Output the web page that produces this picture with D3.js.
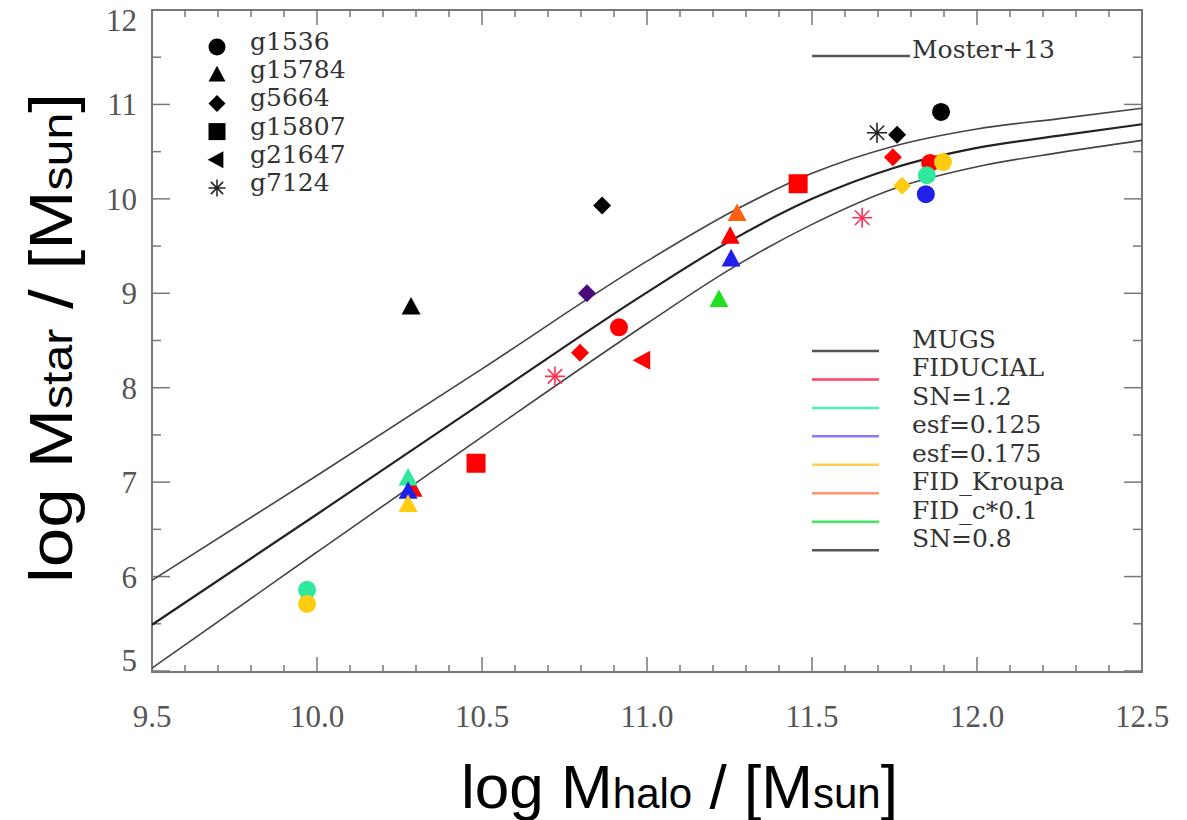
<!DOCTYPE html>
<html lang="en">
<head>
  <meta charset="UTF-8">
  <title>Stellar mass - halo mass</title>
  <style>
    body { margin: 0; background: #fff; }
    svg { display: block; background: #fff; }
    .tick-label { font-family: "Liberation Serif", serif; font-size: 31px; fill: #555; }
    .legend-text { font-family: "DejaVu Serif", serif; font-size: 25px; fill: #333; }
    .title { font-family: "Liberation Sans", Arial, sans-serif; fill: #000; }
  </style>
</head>
<body>
  <svg width="1187" height="820"></svg>

  <script src="https://d3js.org/d3.v7.min.js"></script>
  <script>
    // --- data ---------------------------------------------------------------
    const galaxies = ["g1536", "g15784", "g5664", "g15807", "g21647", "g7124"];
    const shapes = ["circle", "triangle", "diamond", "square", "left", "asterisk"];

    const models = ["MUGS", "FIDUCIAL", "SN=1.2", "esf=0.125", "esf=0.175", "FID_Kroupa", "FID_c*0.1", "SN=0.8"];
    const modelColors = ["#000000", "#ff0000", "#30e89c", "#2020e8", "#ffcc10", "#ff6010", "#20e020", "#4b0a7a"];
    const legendLineColors = ["#555", "#ff4060", "#50f0b0", "#8080ff", "#ffd050", "#ff9070", "#40e860", "#555"];

    // [galaxy, log Mhalo, log Mstar]
    const mugsPts = [
      ["g1536", 11.891, 10.92], ["g15784", 10.285, 8.85], ["g5664", 10.864, 9.93],
      ["g5664", 11.758, 10.68], ["g7124", 11.697, 10.70]
    ];
    const fiducialPts = [
      ["g5664", 11.745, 10.44], ["g1536", 11.858, 10.38], ["g15807", 11.458, 10.16],
      ["g15784", 11.252, 9.60], ["g1536", 10.915, 8.64], ["g5664", 10.797, 8.37],
      ["g21647", 10.988, 8.29], ["g7124", 10.721, 8.12], ["g15807", 10.482, 7.20],
      ["g15784", 10.291, 6.92], ["g7124", 11.652, 9.80]
    ];
    const sn12Pts = [["g15784", 10.276, 7.04], ["g1536", 9.970, 5.86], ["g1536", 11.848, 10.25]];
    const esf125Pts = [["g15784", 10.276, 6.90], ["g15784", 11.255, 9.36], ["g1536", 11.845, 10.05]];
    const esf175Pts = [["g15784", 10.276, 6.76], ["g1536", 9.970, 5.71], ["g5664", 11.773, 10.14], ["g1536", 11.897, 10.39]];
    const kroupaPts = [["g15784", 11.273, 9.84]];
    const cstarPts = [["g15784", 11.218, 8.93]];
    const sn08Pts = [["g5664", 10.818, 9.00]];
    const modelPts = [mugsPts, fiducialPts, sn12Pts, esf125Pts, esf175Pts, kroupaPts, cstarPts, sn08Pts];

    // Moster+13 relation and its scatter
    const mosterX = [9.5, 10.0, 10.5, 11.0, 11.25, 11.5, 11.75, 12.0, 12.25, 12.5];
    const mosterMid = [5.49, 6.66, 7.84, 9.01, 9.55, 10.00, 10.33, 10.54, 10.67, 10.79];
    const mosterUp = [5.96, 7.07, 8.20, 9.34, 9.85, 10.27, 10.56, 10.74, 10.85, 10.96];
    const mosterLo = [5.03, 6.26, 7.48, 8.68, 9.25, 9.73, 10.11, 10.34, 10.49, 10.62];

    const xMajor = [9.5, 10.0, 10.5, 11.0, 11.5, 12.0, 12.5];
    const yMajor = [5, 6, 7, 8, 9, 10, 11, 12];

    // --- layout -------------------------------------------------------------
    const svg = d3.select("svg");
    const x = d3.scaleLinear().domain([9.5, 12.5]).range([152, 1142]);
    const y = d3.scaleLinear().domain([5, 12]).range([671, 10]);
    const [x0, x1] = x.range();
    const yTop = 10, yBot = 672;

    function shapePath(shape, s) {
      switch (shape) {
        case "circle": return `M${s},0A${s},${s},0,1,1,${-s},0A${s},${s},0,1,1,${s},0Z`;
        case "triangle": return `M0,${-s * 1.1}L${s},${s * 0.75}L${-s},${s * 0.75}Z`;
        case "diamond": return `M0,${-s}L${s},0L0,${s}L${-s},0Z`;
        case "square": return `M${-s},${-s}H${s}V${s}H${-s}Z`;
        case "left": return `M${-s * 1.1},0L${s * 0.75},${-s}L${s * 0.75},${s}Z`;
        case "asterisk": {
          const d = s * 0.72;
          return `M0,${-s}V${s}M${-s},0H${s}M${-d},${-d}L${d},${d}M${-d},${d}L${d},${-d}`;
        }
      }
    }
    const shapeOf = g => shapes[galaxies.indexOf(g)];
    const sizeOf = sh => ({ circle: 9, triangle: 9.5, diamond: 9, square: 9.5, left: 9.5, asterisk: 10 })[sh];

    // --- frame and ticks ----------------------------------------------------
    const axisG = svg.append("g").attr("stroke", "#777").attr("fill", "none");
    axisG.append("rect").attr("x", x0).attr("y", yTop).attr("width", x1 - x0).attr("height", yBot - yTop)
      .attr("stroke-width", 2);

    const xMinor = d3.range(95, 126).map(v => v / 10).filter(v => !xMajor.some(m => Math.abs(m - v) < 1e-6));
    const yMinor = d3.range(5.5, 12, 1);

    function xTicks(vals, len) {
      vals.forEach(v => {
        axisG.append("line").attr("x1", x(v)).attr("x2", x(v)).attr("y1", yBot).attr("y2", yBot - len).attr("stroke-width", 1.5);
        axisG.append("line").attr("x1", x(v)).attr("x2", x(v)).attr("y1", yTop).attr("y2", yTop + len).attr("stroke-width", 1.5);
      });
    }
    function yTicks(vals, len) {
      vals.forEach(v => {
        axisG.append("line").attr("x1", x0).attr("x2", x0 + len).attr("y1", y(v)).attr("y2", y(v)).attr("stroke-width", 1.5);
        axisG.append("line").attr("x1", x1).attr("x2", x1 - len).attr("y1", y(v)).attr("y2", y(v)).attr("stroke-width", 1.5);
      });
    }
    xTicks(xMajor, 15);
    xTicks(xMinor, 7);
    yTicks(yMajor, 18);
    yTicks(yMinor, 9);

    svg.append("g").selectAll("text").data(xMajor).join("text")
      .attr("class", "tick-label")
      .attr("x", d => x(d)).attr("y", 727)
      .attr("text-anchor", "middle")
      .text(d => d3.format(".1f")(d));

    svg.append("g").selectAll("text").data(yMajor).join("text")
      .attr("class", "tick-label")
      .attr("x", 137).attr("y", d => Math.min(Math.max(y(d), 20), 660) + 11)
      .attr("text-anchor", "end")
      .text(d => d);

    // --- Moster+13 curves ---------------------------------------------------
    const line = d3.line().x(d => x(d[0])).y(d => y(d[1])).curve(d3.curveMonotoneX);
    const curves = [
      { vals: mosterUp, w: 1.6, c: "#444" },
      { vals: mosterLo, w: 1.6, c: "#444" },
      { vals: mosterMid, w: 2.2, c: "#222" }
    ];
    svg.append("g").selectAll("path").data(curves).join("path")
      .attr("fill", "none")
      .attr("stroke", d => d.c)
      .attr("stroke-width", d => d.w)
      .attr("d", d => line(mosterX.map((v, i) => [v, d.vals[i]])));

    // --- points -------------------------------------------------------------
    const ptsG = svg.append("g");
    modelPts.forEach((pts, mi) => {
      pts.forEach(p => {
        const sh = shapeOf(p[0]);
        const col = modelColors[mi];
        const path = ptsG.append("path")
          .attr("transform", `translate(${x(p[1])},${y(p[2])})`)
          .attr("d", shapePath(sh, sizeOf(sh)));
        if (sh === "asterisk") {
          path.attr("fill", "none").attr("stroke", mi === 1 ? "#ff3355" : "#222").attr("stroke-width", 1.6);
        } else {
          path.attr("fill", col);
        }
      });
    });

    // --- galaxy legend ------------------------------------------------------
    const galLeg = svg.append("g");
    galaxies.forEach((g, i) => {
      const by = 50 + i * 28.2;
      const sh = shapes[i];
      const p = galLeg.append("path")
        .attr("transform", `translate(217,${by - 3})`)
        .attr("d", shapePath(sh, sh === "circle" ? 8.5 : 8.5));
      if (sh === "asterisk") p.attr("fill", "none").attr("stroke", "#222").attr("stroke-width", 1.5);
      else p.attr("fill", "#000");
      galLeg.append("text").attr("class", "legend-text").attr("x", 250).attr("y", by).text(g);
    });

    // Moster label
    svg.append("line").attr("x1", 812).attr("x2", 910).attr("y1", 56).attr("y2", 56)
      .attr("stroke", "#555").attr("stroke-width", 2.5);
    svg.append("text").attr("class", "legend-text").attr("x", 912).attr("y", 58).text("Moster+13");

    // --- model legend -------------------------------------------------------
    const modLeg = svg.append("g");
    models.forEach((m, i) => {
      const by = 348 + i * 28.45;
      modLeg.append("line").attr("x1", 812).attr("x2", 879).attr("y1", by + 3).attr("y2", by + 3)
        .attr("stroke", legendLineColors[i]).attr("stroke-width", 2.5);
      modLeg.append("text").attr("class", "legend-text").attr("x", 912).attr("y", by).text(m);
    });

    // --- axis titles --------------------------------------------------------
    const xt = svg.append("text").attr("class", "title")
      .attr("x", 461).attr("y", 808)
      .attr("textLength", 437).attr("lengthAdjust", "spacingAndGlyphs")
      .style("font-size", "62px");
    xt.append("tspan").text("log M");
    xt.append("tspan").style("font-size", "42px").text("halo");
    xt.append("tspan").text(" / [M");
    xt.append("tspan").style("font-size", "42px").text("sun");
    xt.append("tspan").text("]");

    const yt = svg.append("text").attr("class", "title")
      .attr("transform", "translate(72,583) rotate(-90)")
      .attr("textLength", 490).attr("lengthAdjust", "spacingAndGlyphs")
      .style("font-size", "62px");
    yt.append("tspan").text("log M");
    yt.append("tspan").style("font-size", "42px").text("star");
    yt.append("tspan").text(" / [M");
    yt.append("tspan").style("font-size", "42px").text("sun");
    yt.append("tspan").text("]");
  </script>
</body>
</html>
